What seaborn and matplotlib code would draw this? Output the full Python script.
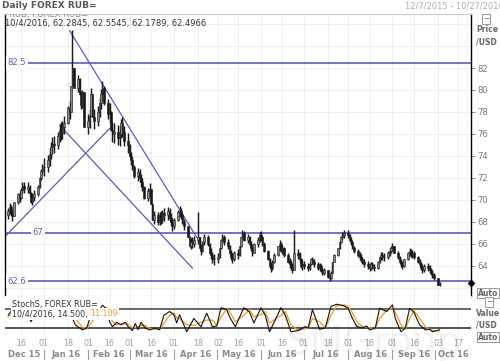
import numpy as np
import pandas as pd
import matplotlib
matplotlib.use("Agg")
import matplotlib.pyplot as plt
import seaborn as sns

# daily closes (business days)
dec15 = [69.0, 69.4, 68.7, 68.5, 69.8, 70.5, 70.2, 70.9, 71.3, 71.0,
         71.2, 70.6, 69.8, 70.3, 70.5, 71.2, 72.0, 72.6, 73.0]
jan16 = [73.0, 73.6, 74.2, 74.8, 75.1, 75.0, 75.8, 76.4, 76.1, 76.6, 77.0,
         78.4, 78.0, 80.4, 82.0, 80.2, 81.0, 79.6, 78.6, 79.8, 76.6]
feb16 = [77.2, 77.6, 79.6, 77.5, 77.2, 78.0, 78.8, 79.6, 80.2, 78.8,
         77.8, 78.0, 76.4, 76.0, 76.2, 75.6, 76.0, 77.0, 76.2, 75.4, 75.0]
mar16 = [74.0, 73.6, 73.0, 72.2, 72.5, 72.0, 71.6, 71.2, 70.2, 70.8, 71.0, 69.6,
         68.2, 68.6, 68.0, 68.6, 68.2, 68.8, 68.6, 69.0, 68.4, 68.0, 67.6]
apr16 = [68.2, 68.9, 69.0, 68.6, 68.0, 67.6, 66.6, 65.8, 66.2, 66.0, 66.4,
         66.6, 65.6, 65.4, 66.2, 66.6, 66.0, 65.2, 65.0, 64.6, 64.6]
may16 = [64.8, 65.6, 66.4, 66.6, 66.2, 65.8, 65.2, 64.8, 64.6, 65.2, 65.0,
         65.8, 66.6, 67.0, 66.4, 66.6, 66.0, 65.6, 65.2, 66.0, 66.4, 66.8]
jun16 = [66.6, 66.0, 65.4, 64.6, 64.0, 63.8, 64.4, 65.0, 65.8, 66.0, 65.4,
         65.6, 65.0, 64.4, 64.2, 64.0, 63.6, 65.2, 65.0, 64.6, 64.0, 64.2]
jul16 = [64.0, 63.8, 64.2, 64.6, 64.4, 64.2, 63.8, 64.0, 63.6, 63.4, 63.6,
         63.0, 62.9, 63.4, 64.4, 65.0, 65.6, 66.2, 66.6, 66.8, 67.0]
aug16 = [66.8, 66.4, 66.2, 65.6, 65.4, 65.0, 64.8, 64.6, 64.4, 64.2, 64.0, 63.8,
         64.2, 63.9, 63.8, 64.4, 64.8, 65.0, 64.8, 64.8, 65.2, 65.4, 65.6]
sep16 = [65.8, 65.2, 64.8, 64.4, 64.2, 64.0, 64.6, 65.2, 65.4, 65.0, 65.2,
         64.8, 64.4, 64.2, 63.8, 63.6, 64.0, 63.8, 63.6, 63.4, 63.2, 62.9]
oct16 = [62.3, 62.4966]

# typical daily bar length (high - low) per month
month_range = [1.0, 1.6, 1.8, 1.2, 1.0, 0.9, 0.9, 0.7, 0.7, 0.7, 0.4]

spans = [("2015-12-07", "2015-12-31", dec15), ("2016-01-01", "2016-01-31", jan16),
         ("2016-02-01", "2016-02-29", feb16), ("2016-03-01", "2016-03-31", mar16),
         ("2016-04-01", "2016-04-30", apr16), ("2016-05-01", "2016-05-31", may16),
         ("2016-06-01", "2016-06-30", jun16), ("2016-07-01", "2016-07-31", jul16),
         ("2016-08-01", "2016-08-31", aug16), ("2016-09-01", "2016-09-30", sep16),
         ("2016-10-01", "2016-10-04", oct16)]

# intraday spikes visible on the chart
spike_high = {"2016-01-21": 85.5, "2016-02-03": 80.2, "2016-04-18": 68.9, "2016-06-24": 67.3}
last_bar = [62.2845, 62.5545, 62.1789, 62.4966]   # o, h, l, c for 10/4/2016

# stochastic (slow %K black, %D orange), turning points
stoch_dates = ["2015-12-07", "2015-12-11", "2015-12-18", "2015-12-23", "2015-12-29",
               "2016-01-05", "2016-01-12", "2016-01-18", "2016-01-21", "2016-01-23",
               "2016-01-28", "2016-01-31", "2016-02-02", "2016-02-05", "2016-02-08",
               "2016-02-11", "2016-02-14", "2016-02-16", "2016-02-18", "2016-02-21",
               "2016-02-24", "2016-02-27", "2016-02-29", "2016-03-03", "2016-03-05",
               "2016-03-07", "2016-03-09", "2016-03-12", "2016-03-15", "2016-03-19",
               "2016-03-22", "2016-03-25", "2016-03-29", "2016-04-01", "2016-04-03",
               "2016-04-05", "2016-04-10", "2016-04-15", "2016-04-20", "2016-04-24",
               "2016-04-28", "2016-05-01", "2016-05-04", "2016-05-08", "2016-05-10",
               "2016-05-14", "2016-05-20", "2016-05-24", "2016-05-27", "2016-06-01",
               "2016-06-04", "2016-06-07", "2016-06-15", "2016-06-18", "2016-06-22",
               "2016-06-27", "2016-07-02", "2016-07-04", "2016-07-07", "2016-07-12",
               "2016-07-16", "2016-07-20", "2016-07-24", "2016-07-29", "2016-08-01",
               "2016-08-04", "2016-08-07", "2016-08-11", "2016-08-14", "2016-08-16",
               "2016-08-20", "2016-08-23", "2016-08-28", "2016-09-01", "2016-09-03",
               "2016-09-07", "2016-09-10", "2016-09-13", "2016-09-16", "2016-09-20",
               "2016-09-24", "2016-09-27", "2016-09-29", "2016-10-04"]
stoch_k = [60, 85, 90, 40, 85, 92, 90, 88, 51, 30, 14, 20, 48, 52, 70, 92, 80, 40, 24, 38,
           30, 38, 24, 12, 34, 15, 38, 20, 14, 20, 14, 60, 72, 62, 36, 62, 8, 50, 24, 67,
           24, 26, 84, 78, 55, 24, 84, 70, 36, 84, 60, 8, 84, 60, 8, 12, 24, 20, 78, 16,
           20, 88, 95, 90, 82, 50, 25, 20, 26, 14, 20, 82, 72, 93, 50, 8, 20, 82, 70, 30,
           14, 16, 8, 14.5]
stoch_d = [55, 70, 85, 65, 65, 88, 90, 88, 72, 50, 22, 17, 30, 48, 58, 78, 85, 65, 40, 30,
           33, 34, 32, 20, 22, 24, 28, 28, 18, 16, 16, 35, 60, 68, 52, 50, 30, 28, 38, 45,
           45, 28, 55, 80, 72, 40, 60, 78, 55, 62, 72, 35, 60, 72, 30, 12, 18, 20, 50, 40,
           20, 60, 90, 93, 88, 68, 40, 24, 22, 20, 17, 50, 76, 82, 70, 30, 16, 50, 75, 50,
           24, 15, 12, 11.1]

levels = [82.5, 67, 62.6]
level_label_x = ["2015-12-13", "2015-12-28", "2015-12-13"]
# trend lines: (start date, start price, end date, end price)
trend_lines = [("2016-01-19", 85.4, "2016-04-17", 66.6),
               ("2016-01-12", 76.8, "2016-04-14", 63.8),
               ("2015-12-05", 66.7, "2016-02-16", 76.5)]

tick_dates = ["2015-12-16", "2016-01-01", "2016-01-18", "2016-02-01", "2016-02-16",
              "2016-03-01", "2016-03-16", "2016-04-01", "2016-04-18", "2016-05-02",
              "2016-05-16", "2016-06-01", "2016-06-16", "2016-07-01", "2016-07-18",
              "2016-08-01", "2016-08-16", "2016-09-01", "2016-09-16", "2016-10-03",
              "2016-10-17"]
month_names = ["Dec 15", "Jan 16", "Feb 16", "Mar 16", "Apr 16", "May 16",
               "Jun 16", "Jul 16", "Aug 16", "Sep 16", "Oct 16"]
month_starts = ["2015-12-01", "2016-01-01", "2016-02-01", "2016-03-01", "2016-04-01",
                "2016-05-01", "2016-06-01", "2016-07-01", "2016-08-01", "2016-09-01",
                "2016-10-01", "2016-11-01"]

dates, closes, ranges = [], [], []
for (a, b, vals), r in zip(spans, month_range):
    d = pd.bdate_range(a, b)
    assert len(d) == len(vals), (a, len(d), len(vals))
    dates += list(d)
    closes += vals
    ranges += [r] * len(vals)

df = pd.DataFrame({"date": dates, "close": closes, "rng": ranges})
df["open"] = df["close"].shift(1).fillna(68.6)
df.loc[df.index[-1], "open"] = last_bar[0]
mid = (df["open"] + df["close"]) / 2
df["high"] = np.maximum(df[["open", "close"]].max(axis=1), mid + df["rng"] / 2)
df["low"] = np.minimum(df[["open", "close"]].min(axis=1), mid - df["rng"] / 2)
for k, v in spike_high.items():
    df.loc[df["date"] == pd.Timestamp(k), "high"] = v
df.loc[df.index[-1], ["high", "low"]] = last_bar[1], last_bar[2]

stoch = pd.DataFrame({"date": pd.to_datetime(stoch_dates), "k": stoch_k, "d": stoch_d})

W, H = 500, 361
def fx(x): return x / W
def fy(y): return 1 - y / H

sns.set_style("white")
plt.rcParams["font.family"] = ["DejaVu Sans"]
fig = plt.figure(figsize=(5, 3.61), dpi=100)
ax = fig.add_axes([fx(5), fy(296), fx(471) - fx(5), fy(14) - fy(296)])
ax2 = fig.add_axes([fx(5), fy(336), fx(471) - fx(5), fy(296) - fy(336)], sharex=ax)

xlim = (pd.Timestamp("2015-12-04 19:00"), pd.Timestamp("2016-10-26"))
grid_c = "#ececec"
blue = "#5c5cb8"

# main panel
for t in tick_dates:
    ax.axvline(pd.Timestamp(t), color=grid_c, lw=0.6, zorder=0)
    ax2.axvline(pd.Timestamp(t), color=grid_c, lw=0.6, zorder=0)
for p in range(62, 88, 2):
    ax.axhline(p, color=grid_c, lw=0.6, zorder=0)

ax.vlines(df["date"], df["low"], df["high"], color="#1a1a1a", lw=1.05, zorder=3)
up = df["close"] >= df["open"]
body = (df["close"] - df["open"]).abs()
ax.bar(df["date"], body, bottom=df[["open", "close"]].min(axis=1), width=1.0,
       color=np.where(up, "#8a8a8a", "#1a1a1a"), edgecolor="#1a1a1a", lw=0.4, zorder=4)

for lv, lx in zip(levels, level_label_x):
    ax.axhline(lv, color=blue, lw=1.2, zorder=2)
    ax.text(pd.Timestamp(lx), lv, f"{lv:g}", fontsize=6, color=blue, ha="center", va="center",
            bbox=dict(facecolor="white", edgecolor="none", pad=1.2), zorder=5)
for d0, p0, d1, p1 in trend_lines:
    ax.plot([pd.Timestamp(d0), pd.Timestamp(d1)], [p0, p1], color=blue, lw=0.9, zorder=2)

ax.set_xlim(xlim)
ax.set_ylim(61.27, 86.91)
ax.yaxis.tick_right()
ax.set_yticks(range(64, 84, 2))
ax.tick_params(axis="y", labelsize=6, colors="#777777", length=3, width=0.6, pad=1.5)
ax.tick_params(axis="x", length=0, labelbottom=False)
for s in ["left", "right"]:
    ax.spines[s].set_color("black")
    ax.spines[s].set_linewidth(1.0)
for s in ["top", "bottom"]:
    ax.spines[s].set_color("#cccccc")
    ax.spines[s].set_linewidth(0.8)
ax.plot([xlim[1]], [last_bar[3]], marker="D", ms=3, color="black", clip_on=False, zorder=6)

ax.text(0.008, 1.0, "RUB, FOREX RUB=", transform=ax.transAxes, fontsize=6, color="#888888",
        va="center", clip_on=True)
ax.text(0.0, 0.965, "10/4/2016, 62.2845, 62.5545, 62.1789, 62.4966", transform=ax.transAxes,
        fontsize=6, color="#333333", va="center", ha="left")

# stochastic panel
ax2.axhline(80, color="#666666", lw=1.4, zorder=1)
ax2.axhline(20, color="#555555", lw=1.4, zorder=1)
sns.lineplot(data=stoch, x="date", y="d", ax=ax2, color="#e8a33c", lw=1.0, zorder=2)
sns.lineplot(data=stoch, x="date", y="k", ax=ax2, color="#111111", lw=0.8, zorder=3)
ax2.set_ylim(-5.3, 121)
ax2.set_xlim(xlim)
ax2.set_xlabel("")
ax2.set_ylabel("")
ax2.set_yticks([])
for s in ax2.spines.values():
    s.set_visible(False)
ax2.set_xticks([pd.Timestamp(t) for t in tick_dates])
ax2.set_xticklabels([t[-2:] for t in tick_dates])
ax2.tick_params(axis="x", length=0, labelsize=5.8, colors="#a0a0a0", pad=2.5)

wbox = dict(facecolor="white", edgecolor="none", pad=0.8)
ax2.text(0.015, 0.80, "StochS, FOREX RUB=", transform=ax2.transAxes, fontsize=5.8, color="#333333",
         va="center", bbox=wbox, zorder=6)
t1 = ax2.text(0.015, 0.55, "10/4/2016, 14.500, ", transform=ax2.transAxes, fontsize=5.8,
              color="#333333", va="center", bbox=wbox, zorder=6)
ax2.annotate("11.109", xy=(1, 0.5), xycoords=t1, fontsize=5.8, color="#e8a33c",
             va="center", ha="left", bbox=wbox, zorder=6)

xt = ax2.get_xaxis_transform()
for i, name in enumerate(month_names):
    a = max(pd.Timestamp(month_starts[i]), xlim[0])
    b = min(pd.Timestamp(month_starts[i + 1]), xlim[1])
    ax2.text(a + (b - a) / 2, -0.47, name, transform=xt, fontsize=6, color="#8a8a8a",
             ha="center", va="center", fontweight="bold")
    if i > 0:
        s = pd.Timestamp(month_starts[i])
        ax2.plot([s, s], [-0.36, -0.58], transform=xt, color="#9a9a9a", lw=0.8, clip_on=False)

# header and right side labels
fig.text(fx(2), fy(6), "Daily FOREX RUB=", fontsize=6.5, color="#555555", fontweight="bold", va="center")
fig.text(fx(405), fy(6), "12/7/2015 - 10/27/2016 (GMT)", fontsize=6, color="#b0b0b0", va="center")
box = dict(facecolor="white", edgecolor="#888888", pad=0.7, lw=0.6)
fig.text(fx(486), fy(19), "−", fontsize=5.5, color="#666666", ha="center", va="center", bbox=box)
fig.text(fx(476), fy(30), "Price", fontsize=5.5, color="#666666", fontweight="bold", va="center")
fig.text(fx(476), fy(42), "/USD", fontsize=5.5, color="#666666", fontweight="bold", va="center")
fig.text(fx(478), fy(293), "Auto", fontsize=5.5, color="#666666", fontweight="bold", va="center", bbox=box)
fig.text(fx(489), fy(302), "−", fontsize=5.5, color="#666666", ha="center", va="center", bbox=box)
fig.text(fx(476), fy(313), "Value", fontsize=5.5, color="#666666", fontweight="bold", va="center")
fig.text(fx(476), fy(325), "/USD", fontsize=5.5, color="#666666", fontweight="bold", va="center")
fig.text(fx(478), fy(337), "Auto", fontsize=5.5, color="#666666", fontweight="bold", va="center", bbox=box)
fig.text(fx(285), fy(343), "SMGroup", fontsize=28, color="#000000", alpha=0.05, va="center")

fig.savefig("out.png", dpi=100)
